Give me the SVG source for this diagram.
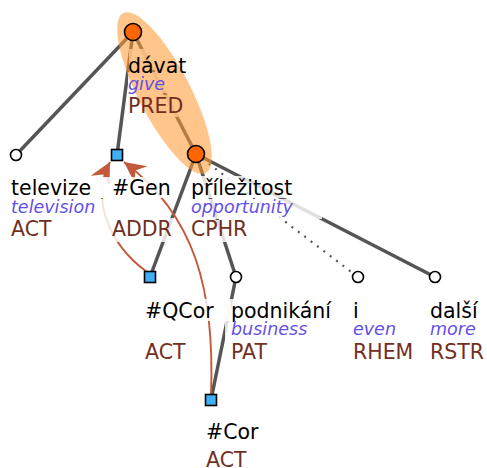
<svg xmlns="http://www.w3.org/2000/svg" width="487" height="468" viewBox="0 0 487 468">
  <defs>
    <marker id="coref-head" markerUnits="userSpaceOnUse" markerWidth="26" markerHeight="26" viewBox="-20 -11 22 22" refX="0" refY="0" orient="auto">
      <path d="M0,0 L-18,-9 L-12,0 L-18,9 Z" fill="#c4583a"/>
    </marker>
  </defs>
  <style>
    .edge { stroke: #555; stroke-width: 3.5; fill: none; }
    .edge-dot { stroke: #555; stroke-width: 2.2; stroke-dasharray: 2 6; fill: none; }
    .coref { stroke: #c4583a; stroke-width: 1.9; fill: none; marker-end: url(#coref-head); }
    .halo { fill: #fff; fill-opacity: 0.82; }
    .hl { fill: #ff9933; fill-opacity: 0.57; }
    .t-node { fill: #ff6600; stroke: #000; stroke-width: 1.6; }
    .c-node { fill: #fff; stroke: #000; stroke-width: 1.6; }
    .q-node { fill: #3fb0f5; stroke: #000; stroke-width: 1.6; }
    text { font-family: "DejaVu Sans", "Liberation Sans", sans-serif; font-size: 20.5px; }
    .lemma { fill: #000; }
    .gloss { fill: #6450e6; font-style: italic; font-size: 17.5px; }
    .func { fill: #722f1f; }
  </style>

  <rect width="487" height="468" fill="#fff"/>

  <!-- dependency edges -->
  <g id="edges">
    <line class="edge" x1="133" y1="32" x2="16" y2="155"/>
    <line class="edge" x1="133" y1="32" x2="117" y2="155"/>
    <line class="edge" x1="133" y1="32" x2="196" y2="154"/>
    <line class="edge" x1="196" y1="154" x2="150" y2="277"/>
    <line class="edge" x1="196" y1="154" x2="236" y2="277"/>
    <line class="edge-dot" x1="196" y1="154" x2="358" y2="277"/>
    <line class="edge" x1="196" y1="154" x2="435" y2="277"/>
    <line class="edge" x1="236" y1="277" x2="211" y2="400"/>
  </g>

  <!-- coreference arrows -->
  <g id="coref">
    <path class="coref" d="M147,272 C110,245 90,200 110,162"/>
    <path class="coref" d="M211,395 C215,290 195,215 124,162"/>
  </g>

  <!-- label halos -->
  <g id="halos">
    <rect class="halo" x="129" y="49" width="60" height="21"/>
    <rect class="halo" x="128" y="72" width="50" height="21"/>
    <rect class="halo" x="128" y="95" width="50" height="22"/>
    <rect class="halo" x="9" y="177" width="98" height="21"/>
    <rect class="halo" x="9" y="199" width="123" height="19"/>
    <rect class="halo" x="9" y="219" width="45" height="22"/>
    <rect class="halo" x="100" y="177" width="78" height="21"/>
    <rect class="halo" x="100" y="218" width="75" height="24"/>
    <rect class="halo" x="190" y="176" width="132" height="22"/>
    <rect class="halo" x="190" y="199" width="132" height="20"/>
    <rect class="halo" x="190" y="220" width="50" height="22"/>
    <rect class="halo" x="143" y="299" width="88" height="22"/>
    <rect class="halo" x="143" y="341" width="50" height="22"/>
    <rect class="halo" x="225" y="299" width="92" height="22"/>
    <rect class="halo" x="225" y="321" width="95" height="19"/>
    <rect class="halo" x="229" y="341" width="40" height="22"/>
    <rect class="halo" x="204" y="421" width="60" height="22"/>
    <rect class="halo" x="204" y="450" width="50" height="18"/>
  </g>

  <!-- highlighted predicate chain -->
  <ellipse class="hl" cx="164.5" cy="93" rx="90" ry="26" transform="rotate(62.7 164.5 93)"/>

  <g id="n-davat">
    <circle class="t-node" cx="133" cy="32" r="8.5"/>
    <text class="lemma" x="128" y="73">dávat</text>
    <text class="gloss" x="128" y="90">give</text>
    <text class="func" x="128" y="113">PRED</text>
  </g>
  <g id="n-televize">
    <circle class="c-node" cx="16" cy="155" r="5.5"/>
    <text class="lemma" x="11" y="195">televize</text>
    <text class="gloss" x="11" y="213">television</text>
    <text class="func" x="11" y="236">ACT</text>
  </g>
  <g id="n-gen">
    <rect class="q-node" x="111.5" y="149.5" width="11" height="11"/>
    <text class="lemma" x="112" y="195">#Gen</text>
    <text class="func" x="112" y="236">ADDR</text>
  </g>
  <g id="n-prilezitost">
    <circle class="t-node" cx="196" cy="154" r="8.5"/>
    <text class="lemma" x="191" y="195">příležitost</text>
    <text class="gloss" x="191" y="213">opportunity</text>
    <text class="func" x="191" y="236">CPHR</text>
  </g>
  <g id="n-qcor">
    <rect class="q-node" x="144.5" y="271.5" width="11" height="11"/>
    <text class="lemma" x="145" y="318">#QCor</text>
    <text class="func" x="145" y="359">ACT</text>
  </g>
  <g id="n-podnikani">
    <circle class="c-node" cx="236" cy="277" r="5.5"/>
    <text class="lemma" x="231" y="318">podnikání</text>
    <text class="gloss" x="231" y="335">business</text>
    <text class="func" x="231" y="359">PAT</text>
  </g>
  <g id="n-i">
    <circle class="c-node" cx="358" cy="277" r="5.5"/>
    <text class="lemma" x="353" y="318">i</text>
    <text class="gloss" x="353" y="335">even</text>
    <text class="func" x="353" y="359">RHEM</text>
  </g>
  <g id="n-dalsi">
    <circle class="c-node" cx="435" cy="277" r="5.5"/>
    <text class="lemma" x="430" y="318">další</text>
    <text class="gloss" x="430" y="335">more</text>
    <text class="func" x="430" y="359">RSTR</text>
  </g>
  <g id="n-cor">
    <rect class="q-node" x="205.5" y="394.5" width="11" height="11"/>
    <text class="lemma" x="206" y="439">#Cor</text>
    <text class="func" x="206" y="467">ACT</text>
  </g>
</svg>
